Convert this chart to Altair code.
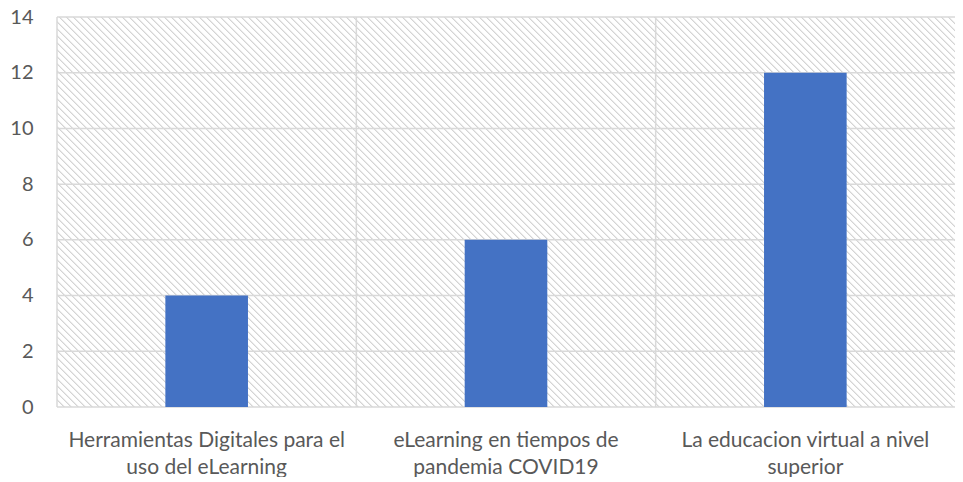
import altair as alt
import pandas as pd

# ---- data ----
categories = [
    "Herramientas Digitales  para el\nuso del eLearning",
    "eLearning en tiempos de\npandemia COVID19",
    "La educacion virtual a nivel\nsuperior",
]
values = [4, 6, 12]
y_ticks = [0, 2, 4, 6, 8, 10, 12, 14]

bars_df = pd.DataFrame({"cat": categories, "value": values})
ticks_df = pd.DataFrame({"tick": y_ticks})
edges_df = pd.DataFrame({"cat": categories})

W, H = 898, 390
GRID = "#d9d9d9"
TEXT = "#595959"
FONT = "Lato"

# hatch pattern as a striped linear gradient (diagonal "\" stripes)
n_stripes = 184
stops = []
for i in range(n_stripes):
    stops.append({"offset": i / n_stripes, "color": "#d4d4d4"})
    stops.append({"offset": (i + 0.3) / n_stripes, "color": "#ffffff"})
    stops.append({"offset": (i + 0.85) / n_stripes, "color": "#ffffff"})
stops.append({"offset": 1.0, "color": "#d4d4d4"})
k = H / W
t = (1 + k) / (1 + k * k)
hatch = alt.LinearGradient(
    gradient="linear", stops=stops, x1=0, y1=1, x2=t, y2=1 - t * k
)

xscale = alt.Scale(domain=categories, paddingInner=0, paddingOuter=0)
yscale = alt.Scale(domain=[0, 14], nice=False)

x_axis = alt.Axis(
    labelAngle=0,
    labelExpr="split(datum.label, '\\n')",
    labelLineHeight=27,
    labelPadding=22,
    labelFontSize=21,
    labelFont=FONT,
    labelColor=TEXT,
    labelBaseline="top",
    labelLimit=0,
    ticks=False,
    domain=False,
    grid=False,
    title=None,
)
y_axis = alt.Axis(
    values=y_ticks,
    labelFontSize=20,
    labelFont=FONT,
    labelColor=TEXT,
    labelPadding=24,
    ticks=False,
    domain=False,
    grid=False,
    title=None,
)

background = alt.Chart(pd.DataFrame({"a": [0]})).mark_rect(
    fill=hatch, stroke=None
).encode(
    y=alt.Y("lo:Q", scale=yscale, axis=y_axis, title=None),
    y2="hi:Q",
).transform_calculate(lo="0", hi="14")

hrules = alt.Chart(ticks_df).mark_rule(color=GRID, strokeWidth=1.5).encode(
    y=alt.Y("tick:Q", scale=yscale, axis=y_axis, title=None)
)

vrules = alt.Chart(edges_df).mark_rule(color=GRID, strokeWidth=1.5).encode(
    x=alt.X("cat:N", scale=xscale, sort=None, axis=x_axis, title=None, bandPosition=0)
)

bars = alt.Chart(bars_df).mark_bar(
    color="#4472C4", width=alt.RelativeBandSize(0.276)
).encode(
    x=alt.X("cat:N", scale=xscale, sort=None, title=None, axis=x_axis),
    y=alt.Y("value:Q", scale=yscale, title=None, axis=y_axis),
)

chart = alt.layer(background, hrules, vrules, bars).properties(
    width=W,
    height=H,
    padding={"left": 49, "top": 9, "right": 0, "bottom": 70},
    autosize=alt.AutoSizeParams(type="none"),
).configure_view(stroke=None)

chart.save("out.html", embed_options={"renderer": "svg", "actions": False})
